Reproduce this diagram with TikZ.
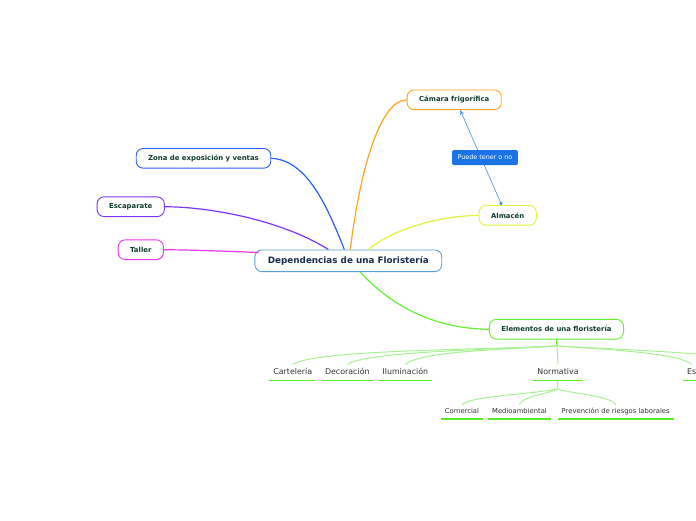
\documentclass[tikz,border=0pt]{standalone}
\usepackage{fontspec}
\setmainfont{DejaVu Sans}
\usetikzlibrary{arrows.meta,positioning}
\definecolor{rootblue}{HTML}{5A9FDF}
\definecolor{roottext}{HTML}{1A2B4C}
\definecolor{topictext}{HTML}{0F3D2F}
\definecolor{leaftext}{HTML}{333333}
\definecolor{orangeb}{HTML}{FFA31A}
\definecolor{yellowb}{HTML}{E2F23A}
\definecolor{blueb}{HTML}{2A5CFF}
\definecolor{purpleb}{HTML}{7B33FF}
\definecolor{magentab}{HTML}{EE33EE}
\definecolor{greenb}{HTML}{66EE33}
\definecolor{subgreen}{HTML}{A8F294}
\definecolor{ulgreen}{HTML}{55EE22}
\definecolor{tipblue}{HTML}{4A90E2}
\definecolor{tagblue}{HTML}{1A74E6}
\tikzset{
  topic/.style={draw, fill=white, rounded corners=7pt, line width=0.9pt,
    minimum height=19.7pt, inner xsep=12pt, inner ysep=0pt, text=topictext,
    font=\bfseries\fontsize{6.9}{8}\selectfont},
  root/.style={topic, draw=rootblue, minimum height=21.7pt, inner xsep=13pt,
    text=roottext, font=\bfseries\fontsize{8.8}{10}\selectfont},
  leaf/.style={inner xsep=4pt, inner ysep=4pt, text height=6pt, text depth=1.8pt,
    text=leaftext, font=\fontsize{7.9}{9}\selectfont},
  twig/.style={leaf, inner ysep=3.5pt, text height=5.2pt, text depth=1.5pt,
    font=\fontsize{6.8}{8}\selectfont},
  tag/.style={fill=tagblue, text=white, rounded corners=1.5pt, minimum height=15pt,
    inner xsep=5.5pt, inner ysep=0pt, font=\fontsize{6.4}{8}\selectfont},
  branch/.style={line width=1.2pt},
  sub/.style={draw=subgreen, line width=1pt},
  uline/.style={draw=ulgreen, line width=1.6pt}
}
\begin{document}
\begin{tikzpicture}[x=1pt, y=-1pt]
  \useasboundingbox (0,0) rectangle (696,520);
  % main topics
  \node [root] (root) at (348.3,260.8) {Dependencias de una Floristería};
  \node [topic, draw=orangeb] (cam) at (454.2,99.8) {Cámara frigorífica};
  \node [topic, draw=yellowb] (alm) at (507.7,215.3) {Almacén};
  \node [topic, draw=blueb] (zona) at (203.5,158.3) {Zona de exposición y ventas};
  \node [topic, draw=purpleb] (escap) at (130.7,206.7) {Escaparate};
  \node [topic, draw=magentab] (taller) at (140.8,249.7) {Taller};
  \node [topic, draw=greenb] (elem) at (556.5,329.2) {Elementos de una floristería};
  % elementos
  \node [leaf] (cart) at (292.8,372.5) {Cartelería};
  \node [leaf, right of=cart, node distance=54.5pt] (deco) {Decoración};
  \node [leaf, right of=deco, node distance=58pt] (ilum) {Iluminación};
  \node [leaf] (norm) at (558,372.5) {Normativa};
  \node [leaf, anchor=west] (es) at (683,372.5) {Es};
  \coordinate (more) at (770,362);
  % normativa
  \node [twig] (com) at (462,412) {Comercial};
  \node [twig] (med) at (519.5,412) {Medioambiental};
  \node [twig] (prev) at (615.7,412) {Prevención de riesgos laborales};
  \coordinate (hubA) at (557,346);
  \coordinate (hubB) at (557,389);

  \draw [branch, orangeb] ([xshift=2pt]root.north) .. controls (360,170) and (380,100) .. (cam.west);
  \draw [branch, blueb] ([xshift=-4pt]root.north) .. controls (325,200) and (305,160) .. (zona.east);
  \draw [branch, purpleb] ([xshift=-20pt]root.north) .. controls (285,222) and (215,207) .. (escap.east);
  \draw [branch, magentab] ([xshift=4pt,yshift=-3pt]root.north west) .. controls (220,251) and (195,250) .. (taller.east);
  \draw [branch, yellowb] ([xshift=20pt]root.north) .. controls (395,228) and (440,216) .. (alm.west);
  \draw [branch, greenb] ([xshift=12pt]root.south) .. controls (395,310) and (440,329) .. (elem.west);

  \draw [tipblue, line width=0.6pt, {Circle[length=3.5pt]}-{Stealth[length=5pt,width=4pt]}]
    ([xshift=-6pt]alm.north) -- node [tag, xshift=4pt] (pto) {Puede tener o no} ([xshift=6pt]cam.south);

  \draw [ulgreen, line width=1.2pt] (elem.south) -- (hubA);
  \draw [sub] (hubA) .. controls (470,350) and (315,350) .. (cart.north);
  \draw [sub] (hubA) .. controls (480,350) and (365,352) .. (deco.north);
  \draw [sub] (hubA) .. controls (490,350) and (420,352) .. (ilum.north);
  \draw [sub] (hubA) -- (norm.north);
  \draw [sub] (hubA) .. controls (620,350) and (680,354) .. (es.north);
  \draw [sub] (hubA) .. controls (630,350) and (700,352) .. (more);
  \draw [sub] (norm.south) -- (hubB);
  \draw [sub] (hubB) .. controls (525,395) and (470,396) .. (com.north);
  \draw [sub] (hubB) .. controls (545,395) and (522,396) .. (med.north);
  \draw [sub] (hubB) .. controls (575,394) and (612,396) .. (prev.north);

  \foreach \n in {cart,deco,ilum,norm,es,com,med,prev}
    \draw [uline] (\n.south west) -- (\n.south east);
  \draw [uline] (es.south east) -- ++(20,0);
\end{tikzpicture}
\end{document}
